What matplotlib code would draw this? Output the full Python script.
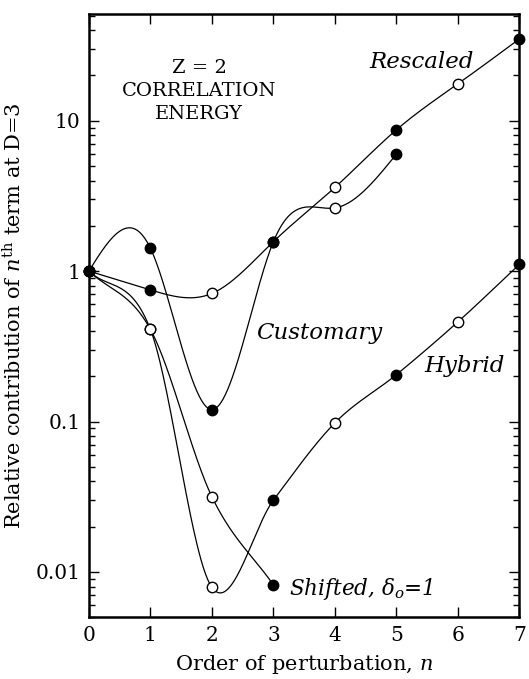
#!/usr/bin/env python3
"""Relative contribution of n-th order terms, Z=2 correlation energy."""

import matplotlib
matplotlib.use("Agg")
import matplotlib.pyplot as plt
import matplotlib.ticker as ticker
import numpy as np

# values (relative contribution, log scale)
n_rescaled = [0, 1, 2, 3, 4, 5, 6, 7]
v_rescaled = [1.0, 0.75, 0.71, 1.57, 3.6, 8.7, 17.6, 35.0]
f_rescaled = [1, 1, 0, 1, 0, 1, 0, 1]  # 1 = filled marker

n_customary = [0, 1, 2, 3, 4, 5]
v_customary = [1.0, 1.42, 0.12, 1.57, 2.63, 6.0]
f_customary = [1, 1, 1, 1, 0, 1]

n_hybrid = [0, 1, 2, 3, 4, 5, 6, 7]
v_hybrid = [1.0, 0.41, 0.0079, 0.030, 0.098, 0.205, 0.46, 1.11]
f_hybrid = [1, 0, 0, 1, 0, 1, 0, 1]

n_shifted = [0, 1, 2, 3]
v_shifted = [1.0, 0.41, 0.0316, 0.0082]
f_shifted = [1, 0, 0, 1]

x_ticks = [0, 1, 2, 3, 4, 5, 6, 7]
y_ticks = [0.01, 0.1, 1, 10]
y_tick_labels = ["0.01", "0.1", "1", "10"]


def natural_spline(x, y, xs):
    """Natural cubic spline through (x, y), evaluated at xs."""
    x = np.asarray(x, float)
    y = np.asarray(y, float)
    n = len(x)
    h = np.diff(x)
    A = np.zeros((n, n))
    rhs = np.zeros(n)
    A[0, 0] = A[-1, -1] = 1.0
    for i in range(1, n - 1):
        A[i, i - 1] = h[i - 1]
        A[i, i] = 2 * (h[i - 1] + h[i])
        A[i, i + 1] = h[i]
        rhs[i] = 6 * ((y[i + 1] - y[i]) / h[i] - (y[i] - y[i - 1]) / h[i - 1])
    M = np.linalg.solve(A, rhs)
    idx = np.clip(np.searchsorted(x, xs) - 1, 0, n - 2)
    x0, x1 = x[idx], x[idx + 1]
    hh = x1 - x0
    a = (x1 - xs) / hh
    b = (xs - x0) / hh
    return (a * y[idx] + b * y[idx + 1]
            + ((a ** 3 - a) * M[idx] + (b ** 3 - b) * M[idx + 1]) * hh ** 2 / 6)


def catmull_rom(x, y, xs):
    """Hermite curve with Catmull-Rom tangents (less overshoot)."""
    x = np.asarray(x, float)
    y = np.asarray(y, float)
    n = len(x)
    m = np.empty(n)
    m[1:-1] = (y[2:] - y[:-2]) / (x[2:] - x[:-2])
    m[0] = (y[1] - y[0]) / (x[1] - x[0])
    m[-1] = (y[-1] - y[-2]) / (x[-1] - x[-2])
    idx = np.clip(np.searchsorted(x, xs) - 1, 0, n - 2)
    h = x[idx + 1] - x[idx]
    t = (xs - x[idx]) / h
    return ((2 * t ** 3 - 3 * t ** 2 + 1) * y[idx]
            + (t ** 3 - 2 * t ** 2 + t) * h * m[idx]
            + (-2 * t ** 3 + 3 * t ** 2) * y[idx + 1]
            + (t ** 3 - t ** 2) * h * m[idx + 1])


def draw_series(ax, n, v, filled, smooth=natural_spline):
    xs = np.linspace(n[0], n[-1], 400)
    ys = 10 ** smooth(n, np.log10(v), xs)
    ax.plot(xs, ys, color="black", linewidth=0.9, zorder=2)
    n = np.asarray(n)
    v = np.asarray(v)
    mask = np.asarray(filled, bool)
    ax.plot(n[mask], v[mask], "o", ms=7.5, mfc="black", mec="black", mew=1.0,
            zorder=4, clip_on=False)
    ax.plot(n[~mask], v[~mask], "o", ms=7.5, mfc="white", mec="black", mew=1.0,
            zorder=4, clip_on=False)


plt.rcParams["font.family"] = ["DejaVu Serif"]
plt.rcParams["mathtext.fontset"] = "dejavuserif"

fig = plt.figure(figsize=(5.29, 6.79), dpi=100)
ax = fig.add_axes([0.168, 0.091, 0.814, 0.888])

draw_series(ax, n_rescaled, v_rescaled, f_rescaled)
draw_series(ax, n_customary, v_customary, f_customary)
draw_series(ax, n_hybrid, v_hybrid, f_hybrid, smooth=catmull_rom)
draw_series(ax, n_shifted, v_shifted, f_shifted, smooth=catmull_rom)

ax.set_yscale("log")
ax.set_xlim(0, 7)
ax.set_ylim(0.005, 51)
ax.set_xticks(x_ticks)
ax.set_yticks(y_ticks)
ax.yaxis.set_major_formatter(ticker.FixedFormatter(y_tick_labels))
ax.yaxis.set_minor_formatter(ticker.NullFormatter())
ax.tick_params(which="both", direction="in", top=True, right=True,
               labelsize=14.5, width=1.0)
ax.tick_params(which="major", length=7, pad=6)
ax.tick_params(which="minor", length=4)
for s in ax.spines.values():
    s.set_linewidth(1.8)

ax.set_xlabel("Order of perturbation, $n$", fontsize=15, labelpad=6)
ax.set_ylabel("Relative contribution of $n^{\\rm th}$ term at D=3",
              fontsize=15, labelpad=7)

ax.text(1.79, 15.8, "Z = 2\nCORRELATION\nENERGY", ha="center", va="center",
        fontsize=14, linespacing=1.35)
ax.text(4.56, 24.7, "Rescaled", style="italic", fontsize=16.5,
        ha="left", va="center")
ax.text(2.72, 0.39, "Customary", style="italic", fontsize=16.5,
        ha="left", va="center")
ax.text(5.45, 0.233, "Hybrid", style="italic", fontsize=16.5,
        ha="left", va="center")
ax.text(3.25, 0.0077, "Shifted, $\\delta_o$=1", style="italic", fontsize=15.5,
        ha="left", va="center")

fig.savefig("out.png", dpi=100)
